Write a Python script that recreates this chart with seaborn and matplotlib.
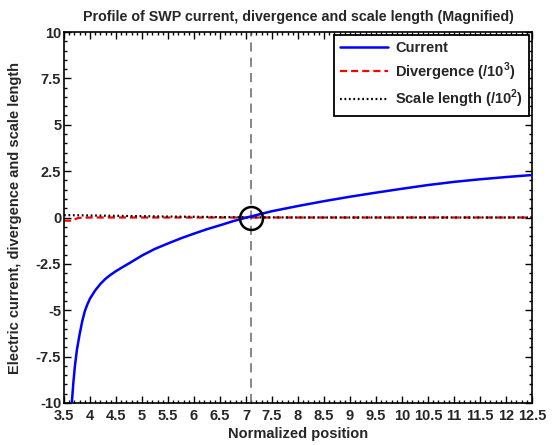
import matplotlib
matplotlib.use("Agg")
import matplotlib.pyplot as plt
import seaborn as sns
import pandas as pd
from matplotlib.ticker import MultipleLocator, FixedLocator, FixedFormatter

# ---- data ----
current_x = [3.65, 3.68, 3.71, 3.75, 3.80, 3.85, 3.90, 3.95, 4.0, 4.1, 4.2, 4.3, 4.4, 4.5,
             4.6, 4.8, 5.0, 5.25, 5.5, 5.75, 6.0, 6.25, 6.5, 6.75, 7.0, 7.5, 8.0, 8.5,
             9.0, 9.5, 10.0, 10.5, 11.0, 11.5, 12.0, 12.5]
current_y = [-10.0, -8.9, -8.0, -7.1, -6.3, -5.6, -5.05, -4.68, -4.37, -3.93, -3.58, -3.30,
             -3.08, -2.89, -2.72, -2.39, -2.05, -1.69, -1.40, -1.12, -0.87, -0.63, -0.42,
             -0.20, -0.01, 0.34, 0.62, 0.88, 1.12, 1.34, 1.55, 1.75, 1.92, 2.06, 2.18, 2.29]

div_x = [3.5, 3.6, 3.68, 3.72, 3.78, 3.9, 4.0, 5.0, 6.0, 7.0, 8.0, 9.0, 10.0, 11.0, 12.0, 12.5]
div_y = [-0.17, -0.17, -0.16, -0.08, -0.02, -0.01, 0.0, 0.0, 0.0, 0.0, 0.0, 0.0, 0.0, 0.0, 0.0, 0.0]

scale_x = [3.5, 4.0, 4.5, 5.0, 5.5, 6.0, 6.5, 7.0, 7.5, 8.0, 9.0, 10.0, 11.0, 12.0, 12.5]
scale_y = [0.13, 0.11, 0.09, 0.07, 0.05, 0.04, 0.02, 0.01, 0.005, 0.0, 0.0, 0.0, 0.0, 0.0, 0.0]

vline_x = 7.09
circle_x = [7.09]
circle_y = [0.0]

x_ticks = [3.5, 4, 4.5, 5, 5.5, 6, 6.5, 7, 7.5, 8, 8.5, 9, 9.5, 10, 10.5, 11, 11.5, 12, 12.5]
x_ticklabels = ["3.5", "4", "4.5", "5", "5.5", "6", "6.5", "7", "7.5", "8", "8.5", "9",
                "9.5", "10", "10.5", "11", "11.5", "12", "12.5"]
y_ticks = [-10, -7.5, -5, -2.5, 0, 2.5, 5, 7.5, 10]
y_ticklabels = ["-10", "-7.5", "-5", "-2.5", "0", "2.5", "5", "7.5", "10"]

title = "Profile of SWP current, divergence and scale length (Magnified)"
xlabel = "Normalized position"
ylabel = "Electric current, divergence and scale length"
labels = ["Current", r"Divergence (/10$^{\mathbf{3}}$)", r"Scale length (/10$^{\mathbf{2}}$)"]

# ---- style ----
sns.set_style("ticks")
plt.rcParams["font.family"] = ["Liberation Sans", "DejaVu Sans"]
plt.rcParams["font.weight"] = "bold"
plt.rcParams["axes.unicode_minus"] = False
plt.rcParams["mathtext.fontset"] = "custom"
plt.rcParams["mathtext.bf"] = "Liberation Sans:bold"
plt.rcParams["mathtext.rm"] = "Liberation Sans:bold"

fig = plt.figure(figsize=(5.52, 4.45), dpi=100)
ax = fig.add_axes([64 / 552, 1 - 403 / 445, (532 - 64) / 552, (403 - 32) / 445])

df_c = pd.DataFrame({"x": current_x, "y": current_y})
df_d = pd.DataFrame({"x": div_x, "y": div_y})
df_s = pd.DataFrame({"x": scale_x, "y": scale_y})

ax.axvline(vline_x, color="#666666", lw=1.1, dashes=(6, 4), zorder=1)
sns.lineplot(data=df_c, x="x", y="y", ax=ax, color="#0000ff", lw=1.8, label=labels[0],
             sort=False, zorder=3)
sns.lineplot(data=df_d, x="x", y="y", ax=ax, color="#ff0000", lw=1.6, label=labels[1],
             sort=False, zorder=2)
ax.lines[-1].set_dashes((3.2, 1.8))
sns.lineplot(data=df_s, x="x", y="y", ax=ax, color="black", lw=1.6, label=labels[2],
             sort=False, zorder=2)
ax.lines[-1].set_dashes((0.8, 1.2))
ax.plot(circle_x, circle_y, marker="o", ms=16.5, mfc="none", mec="black", mew=1.8,
        ls="none", zorder=5)

ax.set_xlim(3.5, 12.5)
ax.set_ylim(-10, 10)
ax.xaxis.set_major_locator(FixedLocator(x_ticks))
ax.xaxis.set_major_formatter(FixedFormatter(x_ticklabels))
ax.yaxis.set_major_locator(FixedLocator(y_ticks))
ax.yaxis.set_major_formatter(FixedFormatter(y_ticklabels))
ax.xaxis.set_minor_locator(MultipleLocator(0.1))
ax.yaxis.set_minor_locator(MultipleLocator(0.5))
ax.tick_params(which="both", direction="in", top=True, right=True, width=1.0, color="black")
ax.tick_params(which="major", length=5, labelsize=10.5)
ax.tick_params(axis="x", which="major", pad=4)
ax.tick_params(axis="y", which="major", pad=2)
ax.tick_params(which="minor", length=2.5)
for lab in ax.get_xticklabels() + ax.get_yticklabels():
    lab.set_fontweight("bold")
for sp in ax.spines.values():
    sp.set_linewidth(1.2)
    sp.set_color("black")

ax.set_title(title, fontsize=10.3, fontweight="bold", pad=8)
ax.set_xlabel(xlabel, fontsize=10.5, fontweight="bold", labelpad=3)
ax.set_ylabel(ylabel, fontsize=10.5, fontweight="bold", labelpad=10)

leg = ax.legend(loc="upper right", fontsize=10.5, frameon=True, fancybox=False,
                edgecolor="black", framealpha=1, borderaxespad=0.2, handlelength=3.3,
                handletextpad=0.5, labelspacing=0.38, borderpad=0.4)
leg.get_frame().set_linewidth(1.3)
for t in leg.get_texts():
    t.set_fontweight("bold")

fig.savefig("out.png", dpi=100)
